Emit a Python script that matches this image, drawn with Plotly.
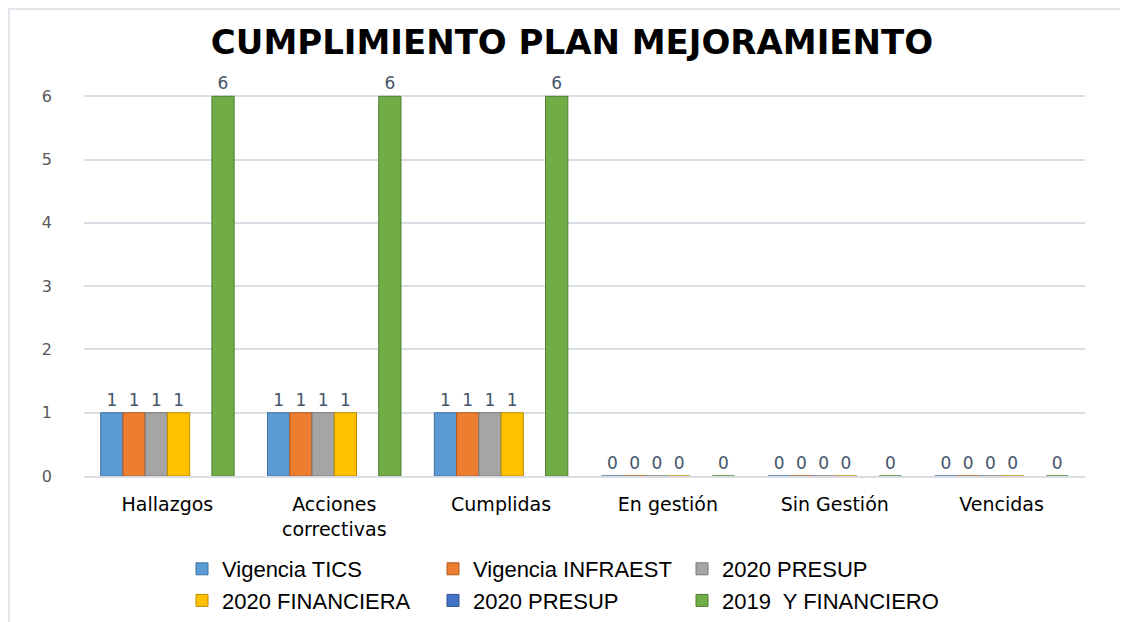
import plotly.graph_objects as go

categories = ["Hallazgos", "Acciones<br>correctivas", "Cumplidas", "En gestión", "Sin Gestión", "Vencidas"]

series_names = ["Vigencia TICS", "Vigencia INFRAEST", "2020 PRESUP",
                "2020 FINANCIERA", "2020 PRESUP", "2019  Y FINANCIERO"]

vigencia_tics = [1, 1, 1, 0, 0, 0]
vigencia_infraest = [1, 1, 1, 0, 0, 0]
presup_2020 = [1, 1, 1, 0, 0, 0]
financiera_2020 = [1, 1, 1, 0, 0, 0]
presup_2020_b = [None, None, None, None, None, None]
financiero_2019 = [6, 6, 6, 0, 0, 0]

y_ticks = [0, 1, 2, 3, 4, 5, 6]

series_values = [vigencia_tics, vigencia_infraest, presup_2020,
                 financiera_2020, presup_2020_b, financiero_2019]

colors = ["#5B9BD5", "#ED7D31", "#A5A5A5", "#FFC000", "#4472C4", "#70AD47"]
edges = ["#41719C", "#AE5A21", "#787878", "#BC8C00", "#2F528F", "#507E32"]

# page body has an 8px margin, so the figure is 8px smaller than the window
W, H = 1120, 614
L, R, T, B = 76, 43, 82, 146
pw, ph = W - L - R, H - T - B

# one legend per column (Excel-style 3 column legend, 2 rows)
legend_ids = ["legend", "legend2", "legend3"]
col_left = [174, 425, 674]

fig = go.Figure()

for i, (name, vals) in enumerate(zip(series_names, series_values)):
    fig.add_trace(go.Bar(
        x=categories,
        y=vals,
        name=name,
        marker=dict(color=colors[i], line=dict(color=edges[i], width=1)),
        text=[("" if v is None else str(v)) for v in vals],
        textposition="outside",
        cliponaxis=False,
        textfont=dict(family="DejaVu Sans", size=17, color="#44546A"),
        legend=legend_ids[i % 3],
    ))

legend_style = dict(
    orientation="v",
    xanchor="left",
    yanchor="top",
    y=(468 - 540) / ph,
    font=dict(family="Liberation Sans", size=22, color="#000000"),
    bgcolor="rgba(0,0,0,0)",
    itemwidth=30,
    tracegroupgap=0,
    traceorder="normal",
)

fig.update_layout(
    width=W, height=H,
    margin=dict(l=L, r=R, t=T, b=B, autoexpand=False),
    paper_bgcolor="white",
    plot_bgcolor="white",
    barmode="group",
    bargap=0.2,
    bargroupgap=0,
    title=dict(
        text="<b>CUMPLIMIENTO PLAN MEJORAMIENTO</b>",
        x=564 / W, xanchor="center",
        y=1 - 34 / H, yanchor="middle",
        font=dict(family="DejaVu Sans", size=34, color="#000000"),
    ),
    xaxis=dict(
        showgrid=False,
        showline=True, linecolor="#D9DEE6", linewidth=2,
        ticks="",
        ticklabelstandoff=10,
        tickfont=dict(family="DejaVu Sans", size=19, color="#000000"),
    ),
    yaxis=dict(
        range=[0, 6.1],
        tickvals=y_ticks,
        showgrid=True, gridcolor="#D9DEE6", gridwidth=2,
        zeroline=False,
        showline=False,
        ticks="",
        ticklabelstandoff=31,
        tickfont=dict(family="DejaVu Sans", size=16, color="#595959"),
    ),
    legend=dict(legend_style, x=(col_left[0] - L) / pw),
    legend2=dict(legend_style, x=(col_left[1] - L) / pw),
    legend3=dict(legend_style, x=(col_left[2] - L) / pw),
    shapes=[
        dict(type="line", xref="paper", yref="paper",
             x0=-L / pw, x1=(W - L) / pw, y0=(468 - 1) / ph, y1=(468 - 1) / ph,
             line=dict(color="#E1E4EA", width=2), layer="below"),
        dict(type="line", xref="paper", yref="paper",
             x0=(1 - L) / pw, x1=(1 - L) / pw, y0=(468 - 1) / ph, y1=(468 - H) / ph,
             line=dict(color="#E1E4EA", width=2), layer="below"),
    ],
)

fig.write_html("out.html")
